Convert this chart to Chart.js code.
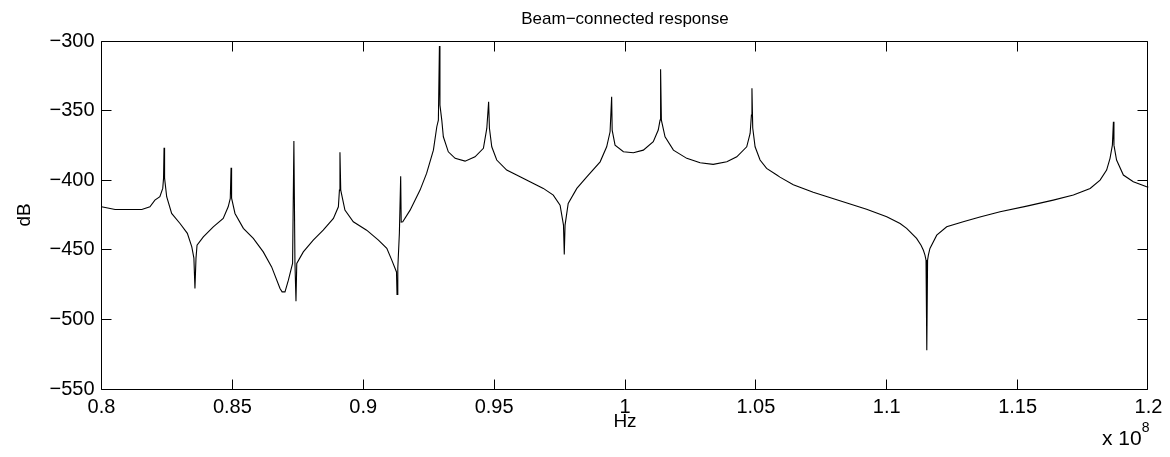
<!DOCTYPE html>
<html>
<head>
<meta charset="utf-8">
<script src="https://cdn.jsdelivr.net/npm/chart.js@4/dist/chart.umd.min.js"></script>
<style>
  html, body { margin: 0; padding: 0; background: #fff; }
  #wrap { width: 1170px; height: 457px; position: relative; }
</style>
</head>
<body>
<div id="wrap"><canvas id="c" width="1170" height="457"></canvas></div>
<script>
// Frequency in units of 1e8 Hz
const freqE8 = [
  0.8000, 0.8052, 0.8154, 0.8185, 0.8204, 0.8223, 0.8234, 0.8237, 0.8239, 0.8241,
  0.8249, 0.8268, 0.8300, 0.8328, 0.8345, 0.8353, 0.8357, 0.8361, 0.8365, 0.8389,
  0.8427, 0.8465, 0.8484, 0.8492, 0.8495, 0.8497, 0.8510, 0.8542, 0.8580, 0.8618,
  0.8650, 0.8682, 0.8690, 0.8701, 0.8714, 0.8730, 0.8735, 0.8739, 0.8743, 0.8746,
  0.8771, 0.8809, 0.8847, 0.8886, 0.8905, 0.8909, 0.8911, 0.8914, 0.8930, 0.8962,
  0.9013, 0.9058, 0.9090, 0.9109, 0.9127, 0.9129, 0.9132, 0.9138, 0.9143, 0.9145,
  0.9151, 0.9179, 0.9217, 0.9242, 0.9268, 0.9281, 0.9287, 0.9291, 0.9293, 0.9300,
  0.9306, 0.9325, 0.9351, 0.9389, 0.9427, 0.9459, 0.9472, 0.9479, 0.9482, 0.9491,
  0.9510, 0.9548, 0.9586, 0.9637, 0.9688, 0.9726, 0.9752, 0.9765, 0.9768, 0.9771,
  0.9783, 0.9816, 0.9854, 0.9905, 0.9930, 0.9943, 0.9949, 0.9951, 0.9962, 0.9994,
  1.0032, 1.0070, 1.0108, 1.0127, 1.0134, 1.0136, 1.0139, 1.0153, 1.0185, 1.0236,
  1.0287, 1.0337, 1.0389, 1.0427, 1.0465, 1.0478, 1.0483, 1.0485, 1.0488, 1.0497,
  1.0516, 1.0541, 1.0580, 1.0592, 1.0643, 1.0719, 1.0821, 1.0923, 1.1000, 1.1051,
  1.1076, 1.1114, 1.1131, 1.1140, 1.1146, 1.1150, 1.1153, 1.1156, 1.1159, 1.1165,
  1.1191, 1.1229, 1.1292, 1.1356, 1.1433, 1.1535, 1.1636, 1.1713, 1.1777, 1.1815,
  1.1840, 1.1853, 1.1862, 1.1866, 1.1868, 1.1878, 1.1904, 1.1942, 1.1993, 1.2000
];
// Response in dB
const responseDb = [
  -419.1, -421.0, -421.0, -419.1, -414.3, -411.9, -405.9, -398.7, -376.7, -398.5,
  -411.9, -423.9, -431.1, -438.2, -447.9, -456.0, -477.8, -456.0, -446.7, -440.7,
  -433.5, -427.5, -419.1, -413.1, -391.1, -412.9, -423.9, -434.6, -441.8, -451.5,
  -462.3, -477.8, -480.2, -480.2, -471.8, -459.8, -371.9, -459.0, -486.9, -459.8,
  -451.5, -443.1, -435.9, -427.5, -419.1, -407.1, -380.0, -407.1, -421.5, -429.9,
  -435.9, -443.1, -449.0, -457.4, -465.9, -482.1, -463.2, -438.2, -397.1, -430.1,
  -429.9, -421.5, -407.1, -395.1, -378.4, -361.6, -356.8, -303.6, -346.0, -356.8,
  -368.8, -379.6, -384.3, -386.3, -383.2, -377.1, -362.8, -343.6, -362.5, -376.0,
  -385.5, -392.7, -396.3, -401.1, -405.9, -410.7, -417.9, -432.3, -453.3, -432.3,
  -416.7, -405.9, -397.6, -386.8, -376.0, -365.2, -340.0, -364.0, -374.8, -379.6,
  -380.3, -378.4, -372.4, -364.0, -356.8, -320.3, -356.8, -368.8, -378.4, -384.3,
  -387.5, -388.6, -386.8, -383.2, -376.0, -366.4, -353.2, -334.0, -362.5, -376.0,
  -385.5, -391.5, -396.3, -397.8, -403.2, -408.7, -414.7, -420.8, -426.3, -431.1,
  -434.6, -441.8, -446.7, -450.3, -453.8, -457.4, -522.1, -457.4, -453.8, -449.0,
  -439.5, -433.5, -429.9, -426.5, -422.7, -418.6, -414.3, -410.7, -405.9, -399.9,
  -392.7, -384.3, -374.8, -358.0, -374.8, -385.5, -396.3, -401.1, -404.7, -405.0
];
const xTickLabels = ['0.8', '0.85', '0.9', '0.95', '1', '1.05', '1.1', '1.15', '1.2'];
const yTickLabels = ['\u2212550', '\u2212500', '\u2212450', '\u2212400', '\u2212350', '\u2212300'];
const chartTitle = 'Beam\u2212connected response';
const xLabel = 'Hz';
const yLabel = 'dB';
const xExponent = '8';

const FONT = '"Liberation Sans", Arial, Helvetica, sans-serif';
const points = freqE8.map((f, i) => ({ x: f, y: responseDb[i] }));

const matlabAxes = {
  id: 'matlabAxes',
  afterDraw(chart) {
    const { ctx, chartArea: a, scales } = chart;
    ctx.save();
    ctx.strokeStyle = '#000';
    ctx.lineWidth = 1;
    const L = Math.floor(a.left) + 0.5, R = Math.floor(a.right) - 0.5;
    const T = Math.floor(a.top) + 0.5, B = Math.floor(a.bottom) + 0.5;
    ctx.beginPath();
    ctx.moveTo(L, T); ctx.lineTo(R, T);
    ctx.moveTo(R, T); ctx.lineTo(R, B);
    ctx.moveTo(R, B); ctx.lineTo(L, B);
    ctx.moveTo(L, B); ctx.lineTo(L, T);
    const tl = 10;
    scales.x.ticks.forEach(t => {
      let px = Math.floor(scales.x.getPixelForValue(t.value)) + 0.5;
      if (px > R) px = R;
      ctx.moveTo(px, B); ctx.lineTo(px, B - tl);
      ctx.moveTo(px, T); ctx.lineTo(px, T + tl);
    });
    scales.y.ticks.forEach(t => {
      const py = Math.floor(scales.y.getPixelForValue(t.value)) + 0.5;
      ctx.moveTo(L, py); ctx.lineTo(L + tl, py);
      ctx.moveTo(R, py); ctx.lineTo(R - tl, py);
    });
    ctx.stroke();
    // exponent label
    ctx.fillStyle = '#000';
    ctx.textBaseline = 'alphabetic';
    ctx.textAlign = 'right';
    ctx.font = '14px ' + FONT;
    const expW = ctx.measureText(xExponent).width;
    ctx.fillText(xExponent, a.right + 1, 432);
    ctx.font = '21px ' + FONT;
    ctx.fillText('x 10', a.right + 1 - expW, 445);
    ctx.restore();
  }
};

new Chart(document.getElementById('c'), {
  type: 'line',
  data: {
    datasets: [{
      data: points,
      borderColor: '#000',
      borderWidth: 1.1,
      pointRadius: 0,
      tension: 0,
      fill: false
    }]
  },
  options: {
    responsive: false,
    animation: false,
    layout: { padding: { left: 0, right: 21.5, top: 0, bottom: 0 } },
    plugins: {
      legend: { display: false },
      tooltip: { enabled: false },
      title: {
        display: true,
        text: chartTitle,
        fullSize: false,
        color: '#000',
        font: { family: FONT, size: 17, weight: 'normal', lineHeight: 1.2 },
        padding: { top: 9.3, bottom: 11.3 }
      }
    },
    scales: {
      x: {
        type: 'linear',
        min: 0.8,
        max: 1.2,
        grid: { display: false, drawTicks: false },
        border: { display: false },
        ticks: {
          stepSize: 0.05,
          autoSkip: false,
          maxRotation: 0,
          padding: 6,
          color: '#000',
          font: { family: FONT, size: 20 },
          callback: (v, i) => xTickLabels[i]
        },
        title: {
          display: true,
          text: xLabel,
          color: '#000',
          font: { family: FONT, size: 19 },
          padding: { top: 0, bottom: 24 }
        },
        afterFit: s => { s.height = 68; }
      },
      y: {
        type: 'linear',
        min: -550,
        max: -300,
        grid: { display: false, drawTicks: false },
        border: { display: false },
        ticks: {
          stepSize: 50,
          padding: 7,
          color: '#000',
          font: { family: FONT, size: 20 },
          callback: (v, i) => yTickLabels[i]
        },
        title: {
          display: true,
          text: yLabel,
          color: '#000',
          font: { family: FONT, size: 19 },
          padding: { top: 13, bottom: 0 }
        },
        afterFit: s => { s.width = 101.5; }
      }
    }
  },
  plugins: [matlabAxes]
});
</script>
</body>
</html>
